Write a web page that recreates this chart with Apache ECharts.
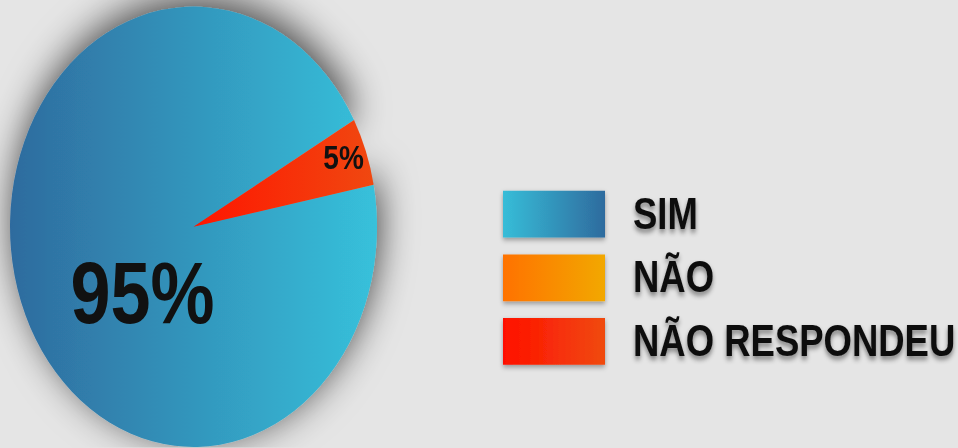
<!DOCTYPE html>
<html>
<head>
<meta charset="utf-8">
<script src="https://cdn.jsdelivr.net/npm/echarts@6/dist/echarts.min.js"></script>
<style>
	html { margin: 0; padding: 0; background: #e5e5e5; overflow: hidden; }
	body { margin: 0; padding: 0; height: 448px; }
	#chart { width: 958px; height: 373px; transform: scaleY(1.2); transform-origin: 0 0; }
</style>
</head>
<body>
<div id="chart"></div>
<script>
var categories = ['SIM', 'NÃO', 'NÃO RESPONDEU'];
var values = [95, 0, 5];
var labels = ['95%', '', '5%'];

function grad(a, b) {
	return new echarts.graphic.LinearGradient(0, 0, 1, 0, [{ offset: 0, color: a }, { offset: 1, color: b }]);
}

var pieColors = [grad('#2e6b9e', '#37c1db'), grad('#ff7200', '#f2a800'), grad('#ff1500', '#f04810')];
var legendColors = [grad('#37bdd8', '#2e6b9e'), grad('#ff7200', '#f2a800'), grad('#ff1000', '#f04a10')];

var chart = echarts.init(document.getElementById('chart'), null, { renderer: 'svg', width: 958, height: 373 });

chart.setOption({
	animation: false,
	backgroundColor: 'transparent',
	legend: {
		orient: 'vertical',
		left: 498,
		top: 154,
		icon: 'rect',
		itemWidth: 102,
		itemHeight: 39,
		itemGap: 14,
		selectedMode: false,
		itemStyle: { shadowBlur: 4, shadowColor: 'rgba(0,0,0,0.35)', shadowOffsetY: 2 },
		textStyle: {
			fontFamily: 'Liberation Sans',
			fontWeight: 'bold',
			fontSize: 36.5,
			color: '#111',
			padding: [0, 0, 0, 23],
			textShadowColor: 'rgba(0,0,0,0.45)',
			textShadowBlur: 4,
			textShadowOffsetY: 3
		},
		data: categories.map(function (c, i) {
			return { name: c, itemStyle: { color: legendColors[i] } };
		})
	},
	series: [{
		type: 'pie',
		center: [193.5, 189],
		radius: [0, 183.5],
		startAngle: 11,
		clockwise: true,
		stillShowZeroSum: true,
		label: {
			show: true,
			position: 'inside',
			fontFamily: 'Liberation Sans',
			fontWeight: 'bold',
			color: '#111',
			formatter: function (p) { return labels[p.dataIndex]; }
		},
		labelLine: { show: false },
		labelLayout: function (p) {
			if (p.dataIndex === 0) return { dx: 38, dy: 23 };
			if (p.dataIndex === 2) return { dx: 61, dy: -25 };
			return {};
		},
		emphasis: { disabled: true },
		data: categories.map(function (c, i) {
			var item = {
				name: c,
				value: values[i],
				itemStyle: { color: pieColors[i] },
				label: { fontSize: i === 0 ? 72 : 28, show: values[i] > 0 }
			};
			if (i === 0) {
				item.itemStyle.shadowBlur = 35;
				item.itemStyle.shadowColor = 'rgba(0,0,0,0.7)';
				item.itemStyle.shadowOffsetY = -7;
				item.itemStyle.shadowOffsetX = 3;
			}
			return item;
		})
	}]
});
</script>
</body>
</html>
